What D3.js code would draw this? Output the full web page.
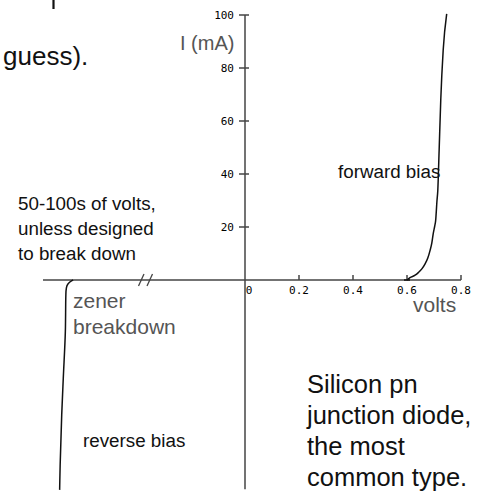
<!DOCTYPE html>
<html>
<head>
<meta charset="utf-8">
<script src="https://cdn.jsdelivr.net/npm/d3@7/dist/d3.min.js"></script>
<style>
  html, body { margin: 0; padding: 0; background: #fff; }
  svg { display: block; }
</style>
</head>
<body>
<svg id="chart" width="482" height="501"></svg>
<script>
// ---- data ----
const forwardVolts = [0.600, 0.611, 0.630, 0.642, 0.655, 0.667, 0.677, 0.685, 0.692, 0.697, 0.703, 0.706, 0.711, 0.714, 0.719, 0.725, 0.734, 0.747];
const forwardMilliAmps = [0, 0.9, 1.8, 2.8, 4.2, 6.1, 8.3, 11, 14, 17.4, 20.5, 22.3, 29.9, 33.7, 48.9, 67.8, 86.7, 100.4];
const reverseVolts = [-54.2, -54.6, -55.2, -55.5, -55.6, -55.7, -56.1, -56.4, -56.7, -56.8];
const reverseMilliAmps = [0, -0.4, -1.5, -3, -5.3, -19.3, -37.1, -50.8, -69.7, -79.2];
const xTickValues = [0, 0.2, 0.4, 0.6, 0.8];
const xTickLabels = ["0", "0.2", "0.4", "0.6", "0.8"];
const yTickValues = [20, 40, 60, 80, 100];
const yTickLabels = ["20", "40", "60", "80", "100"];

const svg = d3.select("#chart");

// scales
const x = d3.scaleLinear().domain([0, 0.8]).range([245, 461]);
const xRev = d3.scaleLinear().domain([-60, -40]).range([43, 147]);
const y = d3.scaleLinear().domain([-80, 100]).range([492, 15]);

const axisColor = "#444";

// x-axis line (broken axis spans reverse region then main region)
svg.append("line")
  .attr("x1", xRev(-60)).attr("x2", x(0.8))
  .attr("y1", y(0)).attr("y2", y(0))
  .attr("stroke", axisColor).attr("stroke-width", 1.5);

// break marks "//"
[0, 8.5].forEach(dx => {
  svg.append("line")
    .attr("x1", xRev(-40) - 8.5 + dx).attr("y1", y(0) + 6)
    .attr("x2", xRev(-40) - 3 + dx).attr("y2", y(0) - 6)
    .attr("stroke", axisColor).attr("stroke-width", 1.3);
});

// y-axis line
svg.append("line")
  .attr("x1", x(0)).attr("x2", x(0))
  .attr("y1", y(100)).attr("y2", y(-79))
  .attr("stroke", axisColor).attr("stroke-width", 1.5);

// x ticks (upward)
const xAxisG = svg.append("g");
xTickValues.forEach((v, i) => {
  if (v !== 0) {
    xAxisG.append("line")
      .attr("x1", x(v)).attr("x2", x(v))
      .attr("y1", y(0) - 5).attr("y2", y(0))
      .attr("stroke", axisColor).attr("stroke-width", 1.5);
  }
  xAxisG.append("text")
    .attr("x", v === 0 ? x(v) + 4 : x(v))
    .attr("y", y(0) + 14)
    .attr("text-anchor", "middle")
    .attr("font-family", "DejaVu Sans Mono")
    .attr("font-size", 11)
    .attr("fill", "#000")
    .text(xTickLabels[i]);
});

// y ticks
const yAxisG = svg.append("g");
yTickValues.forEach((v, i) => {
  yAxisG.append("line")
    .attr("x1", x(0) - 6).attr("x2", x(0) + 4)
    .attr("y1", y(v)).attr("y2", y(v))
    .attr("stroke", axisColor).attr("stroke-width", 1.5);
  yAxisG.append("text")
    .attr("x", x(0) - 11)
    .attr("y", y(v) + 4)
    .attr("text-anchor", "end")
    .attr("font-family", "DejaVu Sans Mono")
    .attr("font-size", 11)
    .attr("fill", "#000")
    .text(yTickLabels[i]);
});

// forward curve
const fwd = forwardVolts.map((v, i) => [v, forwardMilliAmps[i]]);
svg.append("path")
  .datum(fwd)
  .attr("fill", "none")
  .attr("stroke", "#111")
  .attr("stroke-width", 1.5)
  .attr("d", d3.line().x(d => x(d[0])).y(d => y(d[1])).curve(d3.curveMonotoneX));

// reverse (zener) curve
const rev = reverseVolts.map((v, i) => [v, reverseMilliAmps[i]]);
svg.append("path")
  .datum(rev)
  .attr("fill", "none")
  .attr("stroke", "#111")
  .attr("stroke-width", 1.5)
  .attr("d", d3.line().x(d => xRev(d[0])).y(d => y(d[1])).curve(d3.curveMonotoneY));

// small cross marker at curve start
svg.append("line")
  .attr("x1", x(0.6) - 3).attr("x2", x(0.6) + 3)
  .attr("y1", y(0)).attr("y2", y(0))
  .attr("stroke", "#111").attr("stroke-width", 1.5);

// fragment of a glyph from text above the crop (top-left)
svg.append("line")
  .attr("x1", 53.5).attr("x2", 53.5)
  .attr("y1", 0).attr("y2", 9)
  .attr("stroke", "#111").attr("stroke-width", 2.2);

// ---- text annotations ----
function txt(s, tx, ty, size, opts = {}) {
  svg.append("text")
    .attr("x", tx).attr("y", ty)
    .attr("font-family", opts.family || "Liberation Sans, Arial, sans-serif")
    .attr("font-size", size)
    .attr("fill", opts.fill || "#111")
    .text(s);
}

txt("guess).", 3, 65, 26);
txt("I (mA)", 180, 50, 20, { fill: "#555" });
txt("volts", 413, 312, 21, { fill: "#555" });
txt("zener", 73, 308, 21, { fill: "#555" });
txt("breakdown", 73, 334, 21, { fill: "#555" });
txt("forward bias", 338, 178, 18.8);
txt("50-100s of volts,", 18, 210, 18.8);
txt("unless designed", 18, 235, 18.8);
txt("to break down", 18, 260, 18.8);
txt("reverse bias", 83, 447, 18.8);
txt("Silicon pn", 307, 393, 25.5);
txt("junction diode,", 307, 424, 25.5);
txt("the most", 307, 455, 25.5);
txt("common type.", 307, 486, 25.5);
</script>
</body>
</html>
